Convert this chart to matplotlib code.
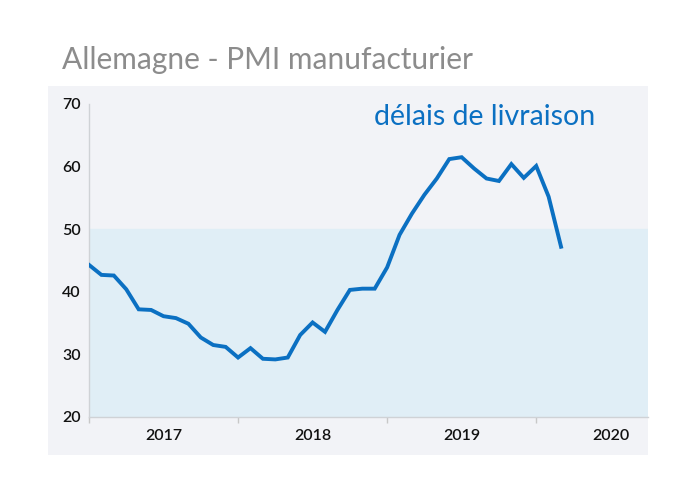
import matplotlib
matplotlib.use("Agg")
import matplotlib.pyplot as plt

# monthly values, Jan 2017 -> Mar 2020
delais = [44.3, 42.7, 42.6, 40.4, 37.2, 37.1, 36.1, 35.8, 34.9, 32.7, 31.5, 31.2,
          29.5, 31.0, 29.3, 29.2, 29.5, 33.1, 35.1, 33.6, 37.1, 40.3, 40.5, 40.5,
          43.9, 49.1, 52.5, 55.5, 58.1, 61.2, 61.5, 59.7, 58.1, 57.7, 60.4, 58.2,
          60.1, 55.2, 47.2]
years = ["2017", "2018", "2019", "2020"]
yticks = [20, 30, 40, 50, 60, 70]

W, H = 695, 483
blue = "#0b70c2"

fig = plt.figure(figsize=(W / 100, H / 100), dpi=100)
fig.patch.set_facecolor("white")

# grey panel behind the plot
panel = fig.add_axes([48 / W, 1 - 455 / H, 600 / W, 369 / H], zorder=0)
panel.set_facecolor("#f2f3f7")
panel.set_xticks([])
panel.set_yticks([])
for s in panel.spines.values():
    s.set_visible(False)

ax = fig.add_axes([89 / W, 1 - 417 / H, 559 / W, 313 / H], zorder=1)
ax.set_facecolor("none")

months = list(range(len(delais)))
ax.axhspan(20, 50, color="#e0eef6", zorder=1)
ax.plot(months, delais, color=blue, lw=2.8, solid_joinstyle="miter", zorder=3)

ax.set_xlim(0, 45)
ax.set_ylim(20, 70)

ax.set_yticks(yticks)
ax.set_yticklabels([str(v) for v in yticks])
ax.tick_params(axis="y", length=0, pad=6, labelsize=11.5, labelcolor="#111111")

ax.set_xticks([0, 12, 24, 36])
ax.set_xticklabels([])
ax.set_xticks([6, 18, 30, 42], minor=True)
ax.set_xticklabels(years, minor=True)
ax.tick_params(axis="x", which="major", length=4, color="#c8c8c8", width=1)
ax.tick_params(axis="x", which="minor", length=0, pad=9, labelsize=11.5,
               labelcolor="#111111")

for lab in ax.get_yticklabels() + ax.get_xticklabels(minor=True):
    lab.set_fontfamily("Lato")
    lab.set_fontweight("semibold")

for s in ["top", "right"]:
    ax.spines[s].set_visible(False)
for s in ["left", "bottom"]:
    ax.spines[s].set_color("#cfd2d6")
    ax.spines[s].set_linewidth(1)

# label sits a bit above the 70 line, like in the source
ax.text(0.51, 1.0, "délais de livraison", transform=ax.transAxes, ha="left",
        va="top", color=blue, fontsize=20.5, fontfamily="Lato")

fig.text(62 / W, 1 - 69 / H, "Allemagne - PMI manufacturier", ha="left",
         va="baseline", color="#8c8c8c", fontsize=21.5, fontfamily="Lato")

fig.savefig("out.png", dpi=100)
